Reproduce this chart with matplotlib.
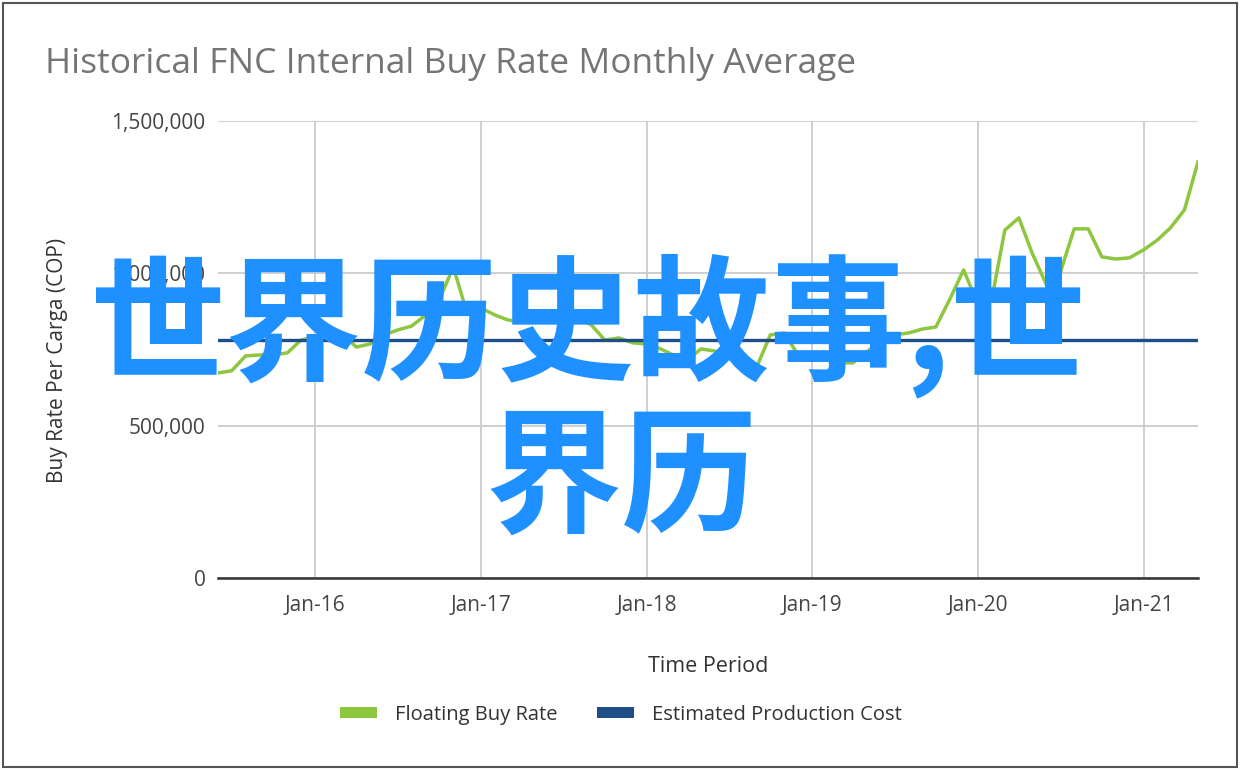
import matplotlib
matplotlib.use("Agg")
import matplotlib.pyplot as plt
import matplotlib.dates as mdates
from matplotlib.patches import Rectangle, Patch
from matplotlib.ticker import FuncFormatter
import pandas as pd

# ---- data ----
start_month = "2015-06-01"
floating_buy_rate = [
    673000, 680000, 729000, 732000, 732000, 739000, 781000, 791000, 795000, 801000,
    758000, 768000, 798000, 814000, 827000, 863000, 913000, 1021000, 870000, 886000,
    863000, 847000, 840000, 840000, 847000, 847000, 854000, 831000, 781000, 788000,
    772000, 768000, 752000, 732000, 716000, 752000, 745000, 726000, 709000, 693000,
    798000, 804000, 732000, 722000, 716000, 706000, 706000, 742000, 775000, 798000,
    804000, 817000, 824000, 916000, 1011000, 903000, 913000, 1142000, 1182000, 1064000,
    962000, 1001000, 1146000, 1146000, 1054000, 1047000, 1051000, 1077000, 1110000, 1149000,
    1208000, 1366000,
]
production_cost = 781000
y_ticks = [0, 500000, 1000000, 1500000]
x_tick_years = [2016, 2017, 2018, 2019, 2020, 2021]
series_names = ["Floating Buy Rate", "Estimated Production Cost"]
title_text = "Historical FNC Internal Buy Rate Monthly Average"
overlay_line1 = "世界历史故事,世"
overlay_line2 = "界历"

dates = pd.date_range(start_month, periods=len(floating_buy_rate), freq="MS")

GREEN = "#8DC63F"
NAVY = "#1D4E89"
BLUE_TXT = "#1E90FF"

plt.rcParams["font.family"] = ["Open Sans", "DejaVu Sans"]

fig = plt.figure(figsize=(12.4, 7.7), dpi=100)
fig.patch.set_facecolor("white")
ax = fig.add_axes([218 / 1240, 1 - 578 / 770, (1198 - 218) / 1240, (578 - 121) / 770])

ax.plot(dates, floating_buy_rate, color=GREEN, lw=2.5, solid_joinstyle="round", zorder=3)
ax.plot([dates[0], dates[-1]], [production_cost, production_cost], color=NAVY, lw=2.4, zorder=4)

ax.set_xlim(dates[0], dates[-1])
ax.set_ylim(0, 1500000)
ax.set_yticks(y_ticks)
ax.yaxis.set_major_formatter(FuncFormatter(lambda v, p: f"{int(v):,}"))
ax.set_xticks([pd.Timestamp(f"{y}-01-01") for y in x_tick_years])
ax.xaxis.set_major_formatter(mdates.DateFormatter("%b-%y"))

ax.grid(True, color="#CCCCCC", lw=1.3, zorder=0)
for s in ["left", "right", "top"]:
    ax.spines[s].set_visible(False)
ax.spines["bottom"].set_color("#333333")
ax.spines["bottom"].set_linewidth(1.8)
ax.spines["bottom"].set_zorder(5)
ax.tick_params(axis="both", length=0, labelsize=15, labelcolor="#444444")
ax.tick_params(axis="y", pad=9)
ax.tick_params(axis="x", pad=12)

ax.set_xlabel("Time Period", fontsize=15.5, color="#333333")
ax.xaxis.set_label_coords(0.5, (578 - 666) / 457, transform=ax.transAxes)
ax.xaxis.label.set_va("center")
ax.set_ylabel("Buy Rate Per Carga (COP)", fontsize=15, color="#333333")
ax.yaxis.set_label_coords((57 - 218) / 980, (578 - 360) / 457, transform=ax.transAxes)
ax.yaxis.label.set_va("center")

fig.text(45 / 1240, 1 - 64 / 770, title_text, fontsize=25.5, color="#757575",
         ha="left", va="center")

handles = [Patch(facecolor=GREEN, edgecolor="none"), Patch(facecolor=NAVY, edgecolor="none")]
fig.legend(handles, series_names, loc="center", bbox_to_anchor=(621 / 1240, 1 - 715 / 770),
           ncol=2, frameon=False, fontsize=14.5, handlelength=1.8, handleheight=0.45,
           columnspacing=2.0, handletextpad=0.9, labelcolor="#333333")

cjk = ["Noto Sans CJK SC", "DejaVu Sans"]
fig.text(588 / 1240, 1 - 326 / 770, overlay_line1, fontsize=98, color=BLUE_TXT,
         family=cjk, weight="bold", ha="center", va="center", zorder=10)
fig.text(622 / 1240, 1 - 482 / 770, overlay_line2, fontsize=98, color=BLUE_TXT,
         family=cjk, weight="bold", ha="center", va="center", zorder=10)

fig.patches.append(Rectangle((3 / 1240, 3 / 770), 1234 / 1240, 764 / 770,
                             transform=fig.transFigure, fill=False,
                             edgecolor="#555555", lw=1.5))

fig.savefig("out.png", dpi=100, facecolor="white")
